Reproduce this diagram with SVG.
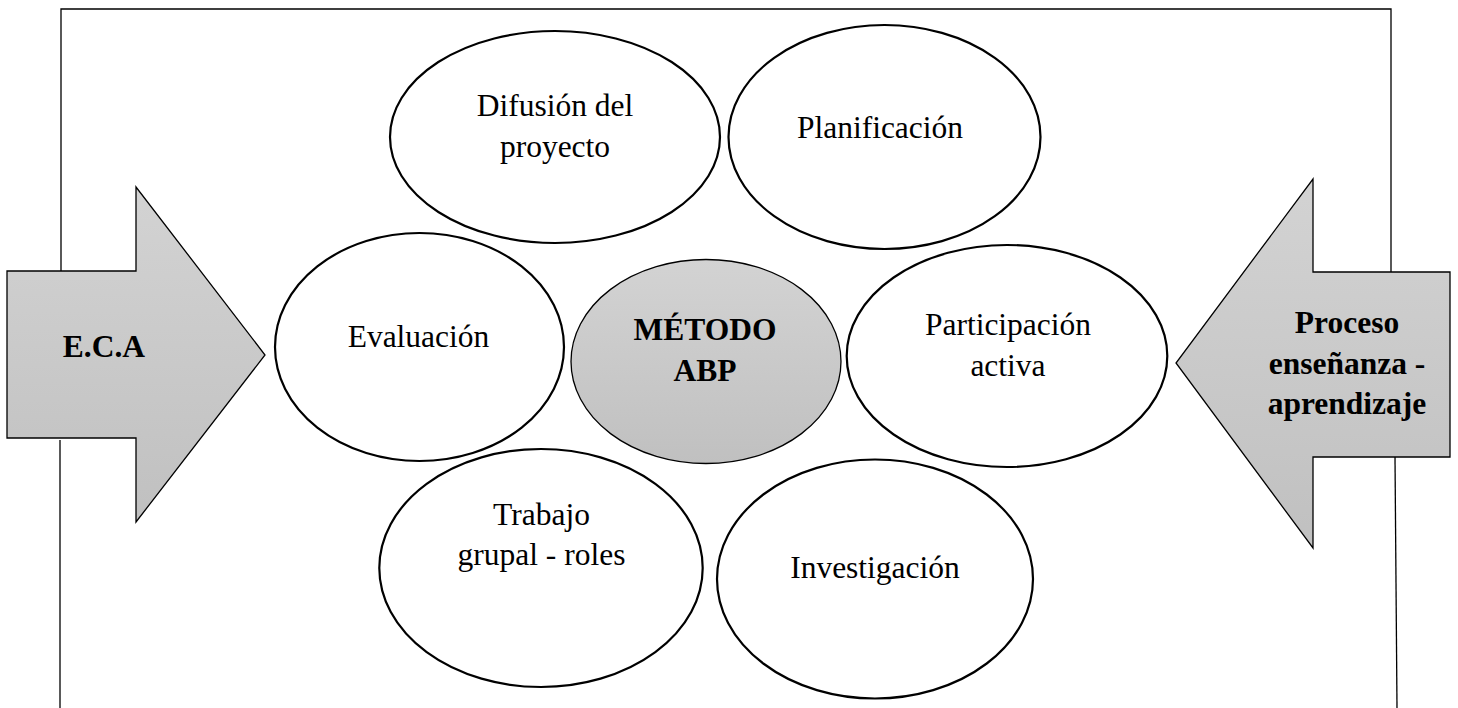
<svg xmlns="http://www.w3.org/2000/svg" width="1458" height="708" viewBox="0 0 1458 708">
<defs>
<linearGradient id="g" x1="0" y1="0" x2="0" y2="1">
<stop offset="0" stop-color="#d3d3d3"/>
<stop offset="1" stop-color="#c0c0c0"/>
</linearGradient>
<style>
.frame{fill:none;stroke:#000;stroke-width:1.3}
.arrow{fill:url(#g);stroke:#000;stroke-width:1.3;stroke-linejoin:miter}
.node{fill:#fff;stroke:#000;stroke-width:2.2}
.center{fill:url(#g);stroke:#000;stroke-width:1.3}
.t{font-family:"Liberation Serif","Times New Roman",serif;font-size:31.5px;fill:#000;text-anchor:middle}
.b{font-weight:bold}
</style>
</defs>
<rect width="1458" height="708" fill="#fff"/>
<g id="frame">
<polyline class="frame" points="61,271 61,9 1391,9 1391,272"/>
<line class="frame" x1="60" y1="440" x2="60" y2="708"/>
<line class="frame" x1="1395" y1="457" x2="1397" y2="708"/>
</g>
<g id="arrow-eca">
<polygon class="arrow" points="7,271 136,271 136,187 265,355 136,522 136,438 7,438"/>
<text class="t b" x="104" y="357">E.C.A</text>
</g>
<g id="arrow-proceso">
<polygon class="arrow" points="1450,272 1313,272 1313,179 1176,363 1313,548 1313,457 1450,457"/>
<text class="t b" x="1347" y="333">Proceso</text>
<text class="t b" x="1347" y="374">enseñanza -</text>
<text class="t b" x="1347" y="414">aprendizaje</text>
</g>
<g id="connectors"></g>
<g id="difusion">
<ellipse class="node" cx="555" cy="137" rx="165" ry="106"/>
<text class="t" x="555" y="116">Difusión del</text>
<text class="t" x="555" y="157">proyecto</text>
</g>
<g id="planificacion">
<ellipse class="node" cx="884.5" cy="137" rx="156" ry="112"/>
<text class="t" x="880" y="138">Planificación</text>
</g>
<g id="evaluacion">
<ellipse class="node" cx="419.5" cy="347" rx="144.5" ry="114"/>
<text class="t" x="418.5" y="347">Evaluación</text>
</g>
<g id="metodo">
<ellipse class="center" cx="706" cy="361.5" rx="135" ry="102"/>
<text class="t b" x="705" y="340">MÉTODO</text>
<text class="t b" x="705" y="381">ABP</text>
</g>
<g id="participacion">
<ellipse class="node" cx="1007" cy="356" rx="160.3" ry="111"/>
<text class="t" x="1008" y="335">Participación</text>
<text class="t" x="1008" y="376">activa</text>
</g>
<g id="trabajo">
<ellipse class="node" cx="541" cy="568" rx="161.7" ry="119"/>
<text class="t" x="541.5" y="525">Trabajo</text>
<text class="t" x="541.5" y="565">grupal - roles</text>
</g>
<g id="investigacion">
<ellipse class="node" cx="875" cy="579" rx="158" ry="119.5"/>
<text class="t" x="875" y="578">Investigación</text>
</g>
</svg>
